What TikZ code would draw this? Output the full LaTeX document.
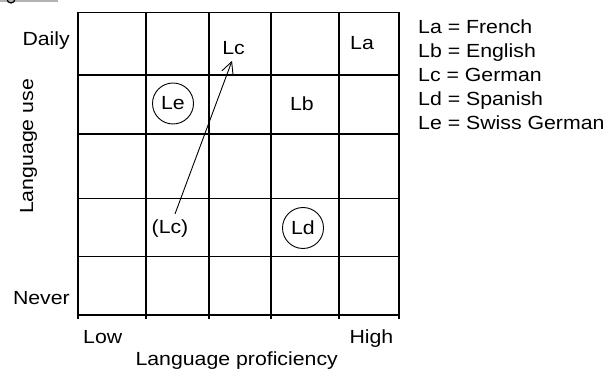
\documentclass[tikz,border=0pt]{standalone}
\usepackage{fontspec}
\setmainfont{Liberation Sans}[FakeStretch=1.12]
\usetikzlibrary{arrows.meta,calc}
\begin{document}
\begin{tikzpicture}[x=1pt,y=-1pt,
  font=\fontsize{19}{22}\selectfont,
  gridline/.style={line width=1.2pt, line cap=rect},
  lbl/.style={inner sep=1pt},
  axislbl/.style={inner sep=0pt},
  ring/.style={draw, circle, line width=0.9pt, minimum size=41pt, inner sep=0pt},
  legend/.style={anchor=base west, inner sep=0pt},
  movearrow/.style={line width=0.9pt, -{Straight Barb[length=12pt,width=12pt]}}]
\useasboundingbox (0,0) rectangle (608,371);

% remains of the caption rule above the figure
\draw[gray!60, line width=1.5pt] (0,0.8) -- (58,0.8);
\draw[line width=1.2pt] (7,-1) arc[start angle=180, end angle=0, radius=4];

% 5 x 5 grid, columns extend below as ticks
\foreach \x in {78,146,209,271,339,399}
  \draw[gridline] (\x,12.5) -- (\x,318.5);
\foreach \y in {12.5,75,134,198.5,256.5,315}
  \draw[gridline] (78,\y) -- (399,\y);

% languages placed in the grid
\node[lbl] (la) at (362,43) {La};
\node[lbl] (lb) at (302,104) {Lb};
\node[lbl] (lc) at (233.5,48) {Lc};
\node[ring] (le) at (173,103.5) {Le};
\node[ring] (ld) at (303,228) {Ld};
\node[lbl] (lcold) at (170,229) {(Lc)};

\draw[movearrow] ($(lcold.north)+(5,-5)$) -- ($(lc.south)+(-1.5,5)$);

% axis labels
\node[axislbl, anchor=base east] (daily) at (70,45.7) {Daily};
\node[axislbl, anchor=base east] (never) at (70,305) {Never};
\node[axislbl, rotate=90, anchor=base] (use) at (33,146.5) {Language use};
\node[axislbl, anchor=base west] (low) at (83,343.5) {Low};
\node[axislbl, anchor=base east] (high) at (393.5,343.5) {High};
\node[axislbl, anchor=base] (prof) at (236.7,366) {Language proficiency};

% legend
\node[legend] (ka) at (418,34) {La = French};
\node[legend] (kb) at (418,58) {Lb = English};
\node[legend] (kc) at (418,82) {Lc = German};
\node[legend] (kd) at (418,106) {Ld = Spanish};
\node[legend] (ke) at (418,130) {Le = Swiss German};
\end{tikzpicture}
\end{document}
